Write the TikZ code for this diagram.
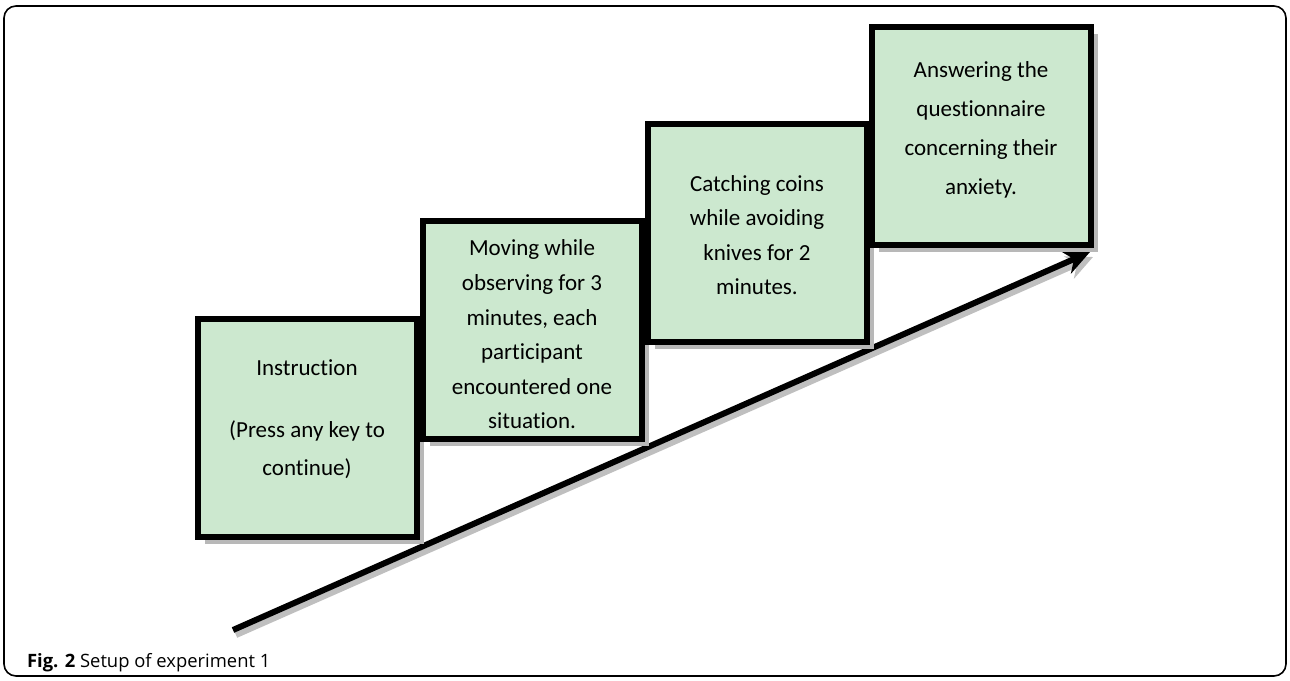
\documentclass[tikz,border=0pt]{standalone}
\usepackage{fontspec}
\setmainfont{Carlito}[Ligatures=NoCommon]
\newfontfamily\capfont{Open Sans}
\usepackage{tikz}
\usepackage{xcolor}
\usetikzlibrary{arrows.meta,shadows}
\definecolor{stepgreen}{RGB}{204,232,207}

\begin{document}
\begin{tikzpicture}[x=0.5pt, y=-0.5pt,
  stepbox/.style={draw=black, line width=3pt, fill=stepgreen,
    minimum width=109.5pt, minimum height=109pt, inner sep=0pt,
    align=center, font=\fontsize{11.5}{19}\selectfont,
    drop shadow={shadow xshift=3.5pt, shadow yshift=-3.5pt, fill=black!28, opacity=1}},
  tightbox/.style={stepbox, font=\fontsize{11.5}{17.3}\selectfont},
  stepline/.style={line width=3pt, -{Stealth[length=13pt, width=12pt]}},
  steplineshadow/.style={stepline, draw=black!25}]
\useasboundingbox (0,0) rectangle (1290,680);
\draw[rounded corners=6pt, line width=0.8pt] (4,6) rectangle (1286,676);

\coordinate (tail) at (233,630);
\coordinate (head) at (1090,252);
\draw[steplineshadow] ([shift={(3,5)}]tail) -- ([shift={(3,5)}]head);
\draw[stepline] (tail) -- (head);

\node[stepbox] (instr) at (307,428) {Instruction\\[12pt](Press any key to\\continue)\rule[-10pt]{0pt}{0pt}};

\node[tightbox] (moving) at (532,330) {\rule{0pt}{12.5pt}Moving while\\observing for 3\\minutes, each\\participant\\encountered one\\situation.};

\node[tightbox] (coins) at (757,233) {\rule{0pt}{10pt}Catching coins\\while avoiding\\knives for 2\\minutes.};

\node[stepbox, font=\fontsize{11.5}{19.5}\selectfont] (answer) at (981,136) {Answering the\\questionnaire\\concerning their\\anxiety.\rule[-7.5pt]{0pt}{0pt}};

\node[anchor=base west, font=\capfont\fontsize{9.2}{12}\selectfont] (caption) at (20,667) {\textbf{Fig. 2} Setup of experiment 1};
\end{tikzpicture}
\end{document}
